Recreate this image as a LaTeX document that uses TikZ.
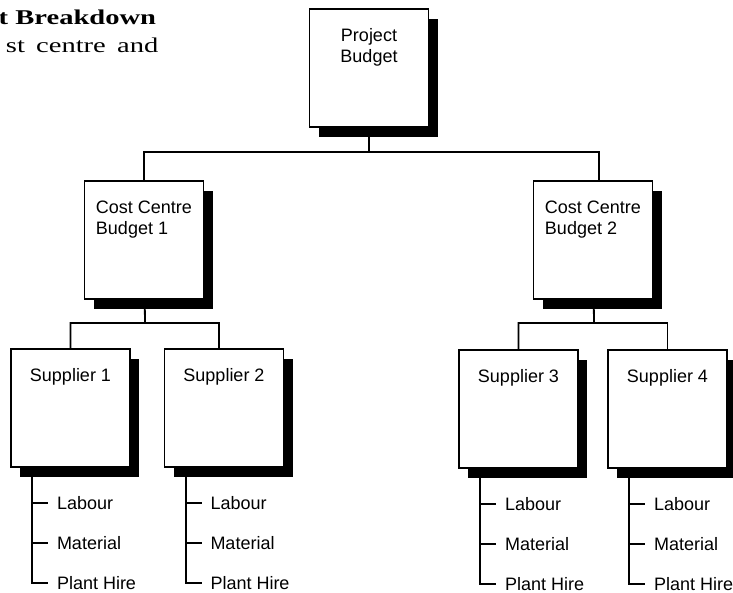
\documentclass[tikz,border=0pt]{standalone}
\usepackage{xcolor}
\usepackage{graphicx}
\usepackage{fontspec}
\setmainfont{Liberation Serif}
\newfontfamily\boxfont{Liberation Sans}
\usepackage{tikz}
\usetikzlibrary{arrows,shapes,positioning,shadows}

\newcommand{\twolines}[3][l]{\begin{tabular}[t]{@{}#1@{}}#2\\#3\end{tabular}}
\newcommand{\wide}[1]{\scalebox{1.36}[1]{#1}}

\begin{document}
\begin{tikzpicture}[auto,x=1pt,y=-1pt,line width=1.8pt,
  budget node/.style={rectangle,draw,fill=white,anchor=north,
    drop shadow={shadow xshift=9pt,shadow yshift=-10pt,fill=black,opacity=1},
    font=\boxfont\fontsize{18}{20.5}\selectfont,
    minimum width=119pt,inner xsep=8pt,inner ysep=8pt,
    text height=25pt,text depth=77pt},
  leaf node/.style={anchor=west,inner xsep=8pt,inner ysep=0pt,
    font=\boxfont\fontsize{18}{20}\selectfont},
  page text/.style={inner sep=0pt,font=\fontsize{21}{25}\selectfont}]
  \useasboundingbox (0,0) rectangle (733,593);
  \clip (0,0) rectangle (733,593);

  \node[page text,anchor=base east] (head) at (157,25) {\wide{\bfseries t Breakdown}};
  \node[page text,anchor=base west] (body) at (5,53) {\wide{st\kern3pt\ centre\kern3pt\ and}};

  \node[budget node] (pb) at (369,8) {\twolines[c]{Project}{Budget}};
  \node[budget node] (cc1) at (144,180) {\twolines{Cost Centre}{Budget 1}};
  \node[budget node] (cc2) at (593,180) {\twolines{Cost Centre}{Budget 2}};
  \node[budget node] (s1) at (70.5,348) {Supplier 1};
  \node[budget node] (s2) at (224,348) {Supplier 2};
  \node[budget node] (s3) at (518.5,349) {Supplier 3};
  \node[budget node] (s4) at (667.5,349) {Supplier 4};

  \coordinate (bus0) at (369,152);
  \coordinate (bus1) at (145,323);
  \coordinate (bus2) at (594,323);

  \draw (pb) -- (bus0) -| (cc1);
  \draw (bus0) -| ([xshift=6pt]cc2.north);
  \draw (cc1) -- (bus1) -| (s1);
  \draw (bus1) -| ([xshift=-5pt]s2.north);
  \draw (cc2) -- (bus2) -| (s3);
  \draw (bus2) -| (s4);

  % cost lines under each supplier
  \foreach \s in {s1,s2,s3,s4}{
    \node[leaf node] (\s-lab) at ([xshift=38pt,yshift=-35pt]\s.south west) {Labour};
    \node[leaf node] (\s-mat) at ([xshift=38pt,yshift=-75pt]\s.south west) {Material};
    \node[leaf node] (\s-ph) at ([xshift=38pt,yshift=-115pt]\s.south west) {Plant Hire};
    \coordinate (\s-sp) at ([xshift=22pt]\s.south west);
    \draw (\s-sp) |- (\s-ph);
    \draw (\s-sp |- \s-lab.west) -- (\s-lab.west);
    \draw (\s-sp |- \s-mat.west) -- (\s-mat.west);
  }

\end{tikzpicture}
\end{document}
